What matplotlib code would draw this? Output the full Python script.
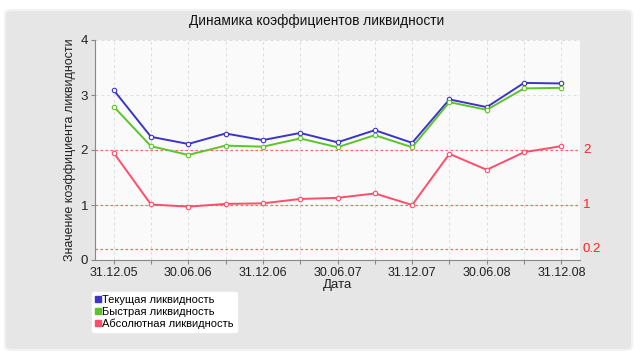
import matplotlib
matplotlib.use("Agg")
import matplotlib.pyplot as plt
from matplotlib.patches import FancyBboxPatch
from matplotlib.lines import Line2D

plt.rcParams['font.family'] = ['Liberation Sans', 'DejaVu Sans']

tick_labels = ["31.12.05", "", "30.06.06", "", "31.12.06", "", "30.06.07", "",
               "31.12.07", "", "30.06.08", "", "31.12.08"]
current = [3.09, 2.24, 2.11, 2.30, 2.18, 2.31, 2.14, 2.36, 2.13, 2.92, 2.78, 3.22, 3.21]
quick = [2.79, 2.07, 1.91, 2.08, 2.06, 2.21, 2.05, 2.27, 2.05, 2.87, 2.73, 3.12, 3.13]
absolute = [1.95, 1.01, 0.97, 1.02, 1.03, 1.11, 1.13, 1.21, 1.00, 1.93, 1.64, 1.96, 2.07]
ref_levels = [2, 1, 0.2]
ref_labels = ["2", "1", "0.2"]
series_names = ["Текущая ликвидность", "Быстрая ликвидность", "Абсолютная ликвидность"]
colors = ["#3c34c8", "#5cc42a", "#ff4d6a"]

W, H = 640, 355
fig = plt.figure(figsize=(W / 100, H / 100), dpi=100)
fig.patch.set_facecolor("white")

bg = FancyBboxPatch((5 / W, 5 / H), 627 / W, 340 / H,
                    boxstyle="round,pad=0,rounding_size=0.012",
                    transform=fig.transFigure, facecolor="#e6e6e6",
                    edgecolor="#f2f2f2", linewidth=1.5, zorder=-10)
fig.patches.append(bg)

ax = fig.add_axes([95 / W, (H - 260) / H, 485 / W, 220 / H])
ax.set_zorder(1)
ax.set_facecolor("#fafafa")
x = list(range(len(current)))

for lvl in ref_levels:
    ax.axhline(lvl, color="#ff6666", linestyle=(0, (2, 2)), linewidth=0.9, zorder=2)
for lvl, lab in zip(ref_levels, ref_labels):
    ax.text(12.5 + 0.08, lvl, lab, color="#ff2020", fontsize=9.5, va="center", ha="left",
            transform=ax.transData, clip_on=False)

for vals, c in zip([current, quick, absolute], colors):
    ax.plot(x, vals, color=c, linewidth=1.4, marker="o", markersize=3.2,
            markerfacecolor="white", markeredgecolor=c, markeredgewidth=0.8, zorder=3)

ax.set_xlim(-0.5, 12.5)
ax.set_ylim(0, 4)
ax.set_xticks(x)
ax.set_xticklabels(tick_labels, fontsize=9, color="#222222")
ax.set_yticks([0, 1, 2, 3, 4])
ax.set_yticklabels(["0", "1", "2", "3", "4"], fontsize=9.5, color="#222222")
ax.tick_params(axis="both", length=3, width=0.8, color="#888888", pad=2)
ax.grid(True, color="#dddddd", linestyle=(0, (3, 3)), linewidth=0.7, zorder=1)
ax.set_axisbelow(True)
for s in ["top", "right"]:
    ax.spines[s].set_visible(False)
for s in ["left", "bottom"]:
    ax.spines[s].set_color("#888888")
    ax.spines[s].set_linewidth(0.8)

ax.set_xlabel("Дата", fontsize=9.5, color="#222222", labelpad=0)
ax.set_ylabel("Значение коэффициента ликвидности", fontsize=9, color="#222222", labelpad=3)

fig.text(317 / W, 1 - 21 / H, "Динамика коэффициентов ликвидности", fontsize=9.8,
         ha="center", va="center", color="#111111")

handles = [Line2D([], [], marker="s", linestyle="none", color=c, markersize=5) for c in colors]
leg = fig.legend(handles, series_names, loc="upper left",
                 bbox_to_anchor=(92 / W, 1 - 292 / H), fontsize=8,
                 frameon=True, fancybox=True, handlelength=0.5, handletextpad=0.1,
                 borderpad=0.3, labelspacing=0.15, borderaxespad=0)
leg.get_frame().set_facecolor("white")
leg.get_frame().set_edgecolor("white")
leg.get_frame().set_alpha(1)

fig.savefig("out.png", dpi=100)
